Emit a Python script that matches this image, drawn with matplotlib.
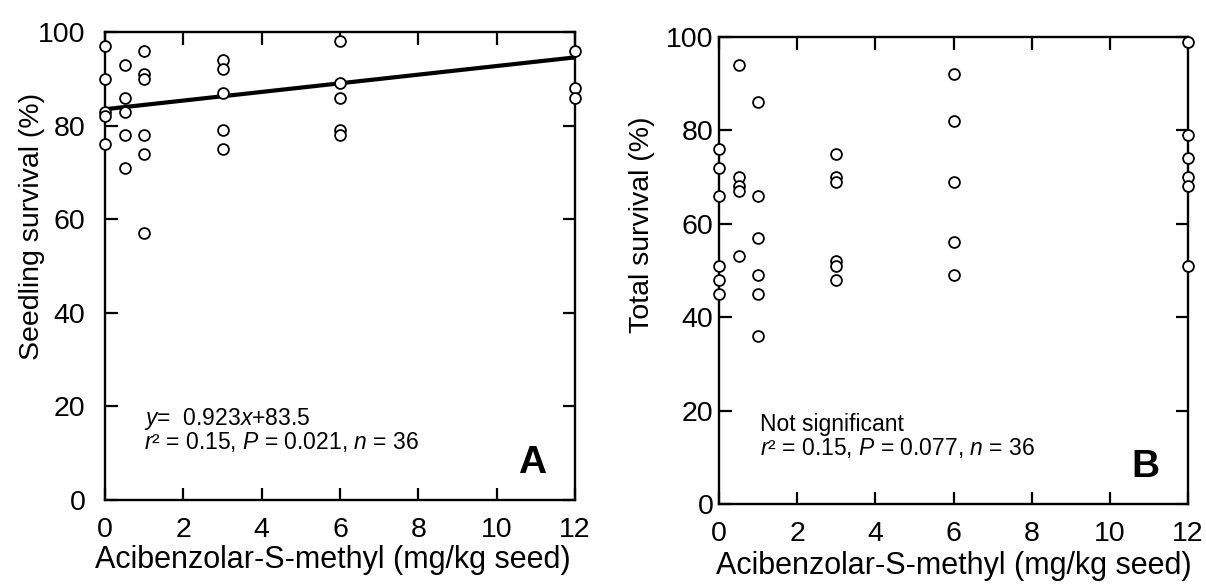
import matplotlib
matplotlib.use('Agg')
import matplotlib.pyplot as plt

plt.rcParams['font.family'] = ['Liberation Sans', 'DejaVu Sans']
plt.rcParams['mathtext.fontset'] = 'custom'
plt.rcParams['mathtext.rm'] = 'Liberation Sans'
plt.rcParams['mathtext.it'] = 'Liberation Sans:italic'

# doses of acibenzolar-S-methyl (mg/kg seed)
doses = [0, 0.5, 1, 3, 6, 12]

# seedling survival (%) per dose, panel A
seedling = [
    [97, 90, 83, 82, 76],
    [93, 86, 83, 78, 71],
    [96, 91, 90, 78, 74, 57],
    [94, 92, 87, 79, 75],
    [98, 89, 86, 79, 78],
    [96, 88, 86],
]

# total survival (%) per dose, panel B
total = [
    [76, 72, 66, 51, 48, 45],
    [94, 70, 68, 67, 53],
    [86, 66, 57, 49, 45, 36],
    [75, 70, 69, 52, 51, 48],
    [92, 82, 69, 56, 49],
    [99, 79, 74, 70, 68, 51],
]

# regression for panel A
slope = 0.923
intercept = 83.5

x_ticks = [0, 2, 4, 6, 8, 10, 12]
y_ticks = [0, 20, 40, 60, 80, 100]
x_label = 'Acibenzolar-S-methyl (mg/kg seed)'

fig = plt.figure(figsize=(12.06, 5.86), dpi=100)
ax_a = fig.add_axes([0.0871, 0.1468, 0.3897, 0.7986])
ax_b = fig.add_axes([0.5962, 0.1399, 0.3889, 0.7970])


def scatter(ax, groups):
    for d, vals in zip(doses, groups):
        ax.plot([d] * len(vals), vals, 'o', ms=7.8, mfc='white', mec='black',
                mew=1.3, clip_on=False, zorder=5)


def style(ax, ylabel, ypad):
    ax.set_xlim(0, 12)
    ax.set_ylim(0, 100)
    ax.set_xticks(x_ticks)
    ax.set_yticks(y_ticks)
    ax.tick_params(direction='in', length=9, width=1.6, top=True, right=True,
                   labelsize=20.5)
    ax.tick_params(axis='x', pad=12)
    ax.tick_params(axis='y', pad=ypad)
    for s in ax.spines.values():
        s.set_linewidth(1.7)
    ax.set_xlabel(x_label, fontsize=22, va='center')
    ax.set_ylabel(ylabel, fontsize=20.5, va='center')


# panel A
scatter(ax_a, seedling)
xs = [0, 12]
ax_a.plot(xs, [slope * x + intercept for x in xs], color='black', lw=3,
          solid_capstyle='butt', clip_on=False, zorder=4)
style(ax_a, 'Seedling survival (%)', 14)
ax_a.xaxis.set_label_coords(0.485, -0.128)
ax_a.yaxis.set_label_coords(-0.155, 0.585)
ax_a.text(1.0, 10.9, '$y$=  0.923$x$+83.5\n$r$² = 0.15, $P$ = 0.021, $n$ = 36',
          fontsize=16.5, va='baseline', linespacing=0.9)
ax_a.text(10.55, 5.7, 'A', fontsize=28, fontweight='bold', va='baseline')

# panel B
scatter(ax_b, total)
style(ax_b, 'Total survival (%)', 4)
ax_b.xaxis.set_label_coords(0.50, -0.133)
ax_b.yaxis.set_label_coords(-0.164, 0.597)
ax_b.text(1.05, 10.6, 'Not significant\n$r$² = 0.15, $P$ = 0.077, $n$ = 36',
          fontsize=16.5, va='baseline', linespacing=0.95)
ax_b.text(10.55, 5.7, 'B', fontsize=28, fontweight='bold', va='baseline')

fig.savefig('out.png', dpi=100)
